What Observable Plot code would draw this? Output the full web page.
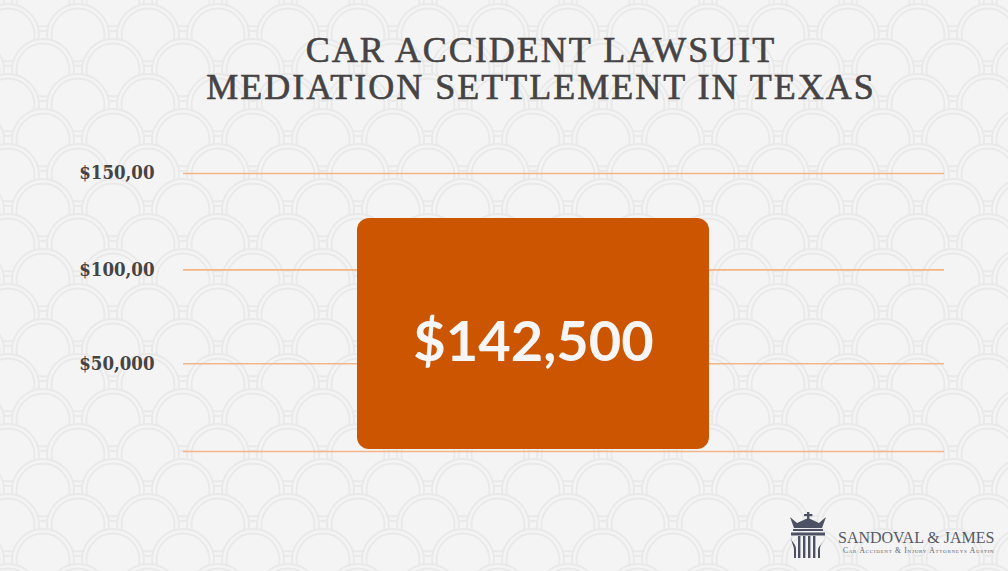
<!DOCTYPE html>
<html><head><meta charset="utf-8">
<script src="https://cdn.jsdelivr.net/npm/d3@7"></script>
<script src="https://cdn.jsdelivr.net/npm/@observablehq/plot@0.6"></script>
<style>
html,body{margin:0;padding:0}
body{width:1008px;height:571px;overflow:hidden;position:relative;background-color:#f4f4f4;background-position:43px 0}
#title{position:absolute;top:32px;left:541px;transform:translateX(-50%);white-space:nowrap;text-align:center;font-family:"Liberation Serif",serif;font-size:36px;line-height:37px;letter-spacing:2px;color:#464344;-webkit-text-stroke:0.6px #464344}
#chart{position:absolute;left:0;top:130px}
#chart g[aria-label="y-axis tick label"] text{font-family:"DejaVu Serif Condensed","DejaVu Serif",serif;font-size:18.5px;font-weight:bold;fill:#454344}
#logo{position:absolute;left:788px;top:512px;width:220px;height:50px}
#logo svg{position:absolute;left:0;top:0}
#logo .name{position:absolute;left:50px;top:18px;font-family:"Liberation Serif",serif;font-size:16px;line-height:16px;color:#555a67;white-space:nowrap}
#logo .tag{position:absolute;left:55px;top:35px;font-family:"Liberation Serif",serif;font-size:7.5px;line-height:8px;font-variant:small-caps;letter-spacing:0.75px;color:#5d6270;white-space:nowrap}
</style>
</head><body>
<div id="title">CAR ACCIDENT LAWSUIT<br>MEDIATION SETTLEMENT IN TEXAS</div>
<div id="chart"></div>
<div id="logo">
<svg width="42" height="48" viewBox="0 0 42 48">
<g fill="#4c5263">
<rect x="19" y="0" width="2.4" height="7"/>
<rect x="16" y="2" width="8.4" height="2.2"/>
<polygon points="2,5 9,11 20.2,6 31,11 38,5 34,16 6,16"/>
<rect x="5" y="17" width="30" height="2"/>
<rect x="3" y="20.5" width="34" height="3"/>
<rect x="10" y="24" width="2.4" height="22"/>
<rect x="15" y="24" width="2.4" height="22"/>
<rect x="20" y="24" width="2.4" height="22"/>
<rect x="25" y="24" width="2.4" height="22"/>
<path d="M3,24 C3,31 8,31 8,37 L8,46 L6,46 L6,38 C6,33 3,31 3,24Z"/>
<path d="M37,24 C37,31 32,31 32,37 L32,46 L30,46 L30,38 C30,33 37,31 37,24Z"/>
</g>
</svg>
<div class="name">SANDOVAL &amp; JAMES</div>
<div class="tag">Car Accident &amp; Injury Attorneys Austin</div>
</div>
<script>
// ---- data ----
const categories = ["Mediation settlement"];
const barValues = [126800];          // bar height as drawn in the picture
const barLabels = ["$142,500"];
const gridValues = [0, 50000, 100000, 150000];
const tickValues = [50000, 100000, 150000];
const tickLabels = ["$50,000", "$100,00", "$150,00"];

// ---- background scale pattern ----
(function(){
  const c = (x,y) => `<circle cx='${x}' cy='${y}' r='31' fill='#f4f4f4' stroke='#e9e9e9' stroke-width='1.8'/><circle cx='${x}' cy='${y}' r='26.5' fill='none' stroke='#e9e9e9' stroke-width='1.8'/>`;
  const svg = `<svg xmlns='http://www.w3.org/2000/svg' width='70' height='70'><rect width='70' height='70' fill='#f4f4f4'/>${c(0,0)}${c(70,0)}${c(35,35)}${c(0,70)}${c(70,70)}</svg>`;
  document.body.style.backgroundImage = `url("data:image/svg+xml,${encodeURIComponent(svg)}")`;
})();

const data = categories.map((c, i) => ({category: c, value: barValues[i], label: barLabels[i]}));

const chart = Plot.plot({
  width: 1008,
  height: 340,
  marginLeft: 183,
  marginRight: 64,
  marginTop: 43,
  marginBottom: 19,
  style: {background: "transparent", overflow: "visible"},
  x: {domain: categories, range: [357, 709], padding: 0, axis: null},
  y: {type: "pow", exponent: 1.05, domain: [0, 150000], label: null},
  marks: [
    Plot.ruleY(gridValues, {stroke: "#f4b586", strokeWidth: 1.6}),
    Plot.axisY(tickValues, {
      tickSize: 0,
      tickPadding: 29,
      tickFormat: d => tickLabels[tickValues.indexOf(d)],
      fontSize: 18.5,
      fontWeight: "bold",
      fill: "#454344"
    }),
    Plot.barY(data, {x: "category", y: "value", fill: "#cb5500", rx: 12, insetBottom: 2}),
    Plot.text(data, {
      x: "category",
      y: d => d.value / 2,
      text: "label",
      fill: "#f6f6f6",
      fontFamily: "Lato",
      fontWeight: "bold",
      fontSize: 56,
      dy: 4
    })
  ]
});
document.getElementById("chart").appendChild(chart);
</script>
</body></html>
